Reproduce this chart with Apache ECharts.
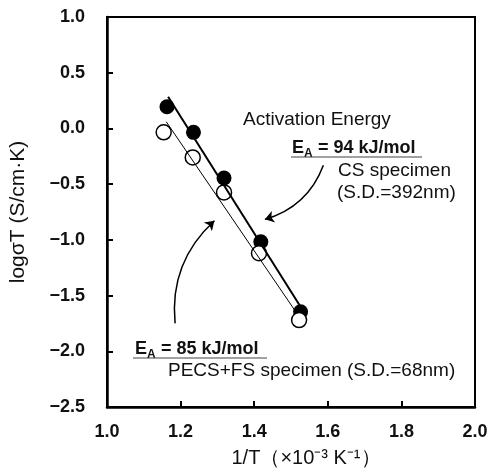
<!DOCTYPE html>
<html>
<head>
<meta charset="utf-8">
<script src="https://cdn.jsdelivr.net/npm/echarts@6/dist/echarts.min.js"></script>
<style>
  html, body { margin: 0; padding: 0; background: #fff; }
  #chart { width: 491px; height: 476px; }
</style>
</head>
<body>
<div id="chart"></div>
<script>
// CS specimen (filled circles)
var csX = [1.163, 1.235, 1.318, 1.418, 1.526]
var csY = [0.195, -0.035, -0.445, -1.017, -1.645]
// PECS+FS specimen (open circles)
var pecsX = [1.154, 1.233, 1.318, 1.413, 1.522]
var pecsY = [-0.035, -0.26, -0.574, -1.12, -1.72]
// fitted lines (end points)
var csFitX = [1.166, 1.526]
var csFitY = [0.285, -1.60]
var pecsFitX = [1.161, 1.516]
var pecsFitY = [0.06, -1.66]
// annotation arrows (start, tip) in data units
var csArrow = [[1.588, -0.33], [1.429, -0.816]]
var pecsArrow = [[1.185, -1.75], [1.292, -0.829]]

function pairs(xs, ys) {
  var out = []
  for (var i = 0; i < xs.length; i++) out.push([xs[i], ys[i]])
  return out
}
function fmt(v) {
  return v.toFixed(1).replace('-', '\u2212')
}

var chart = echarts.init(document.getElementById('chart'))
var font = '"Liberation Sans", Arial, sans-serif'

var option = {
  animation: false,
  backgroundColor: '#fff',
  grid: {
    left: 105, right: 16, top: 17, bottom: 69,
    show: true, borderColor: '#000', borderWidth: 2
  },
  xAxis: {
    type: 'value', min: 1.0, max: 2.0, interval: 0.2,
    name: '1/T\uff08\u00d710\u207b\u00b3 K\u207b\u00b9\uff09',
    nameLocation: 'middle', nameGap: 41,
    nameTextStyle: { color: '#111', fontSize: 20, fontFamily: font, padding: [0, 0, 0, 30] },
    axisLine: { onZero: false, lineStyle: { color: '#000', width: 2.5 } },
    axisTick: { inside: true, length: 6, lineStyle: { color: '#000', width: 2 } },
    axisLabel: { formatter: fmt, color: '#111', fontSize: 18, fontWeight: 'bold', fontFamily: font, margin: 16 },
    splitLine: { show: false }
  },
  yAxis: {
    type: 'value', min: -2.5, max: 1.0, interval: 0.5,
    name: 'log\u03c3T (S/cm\u00b7K)',
    nameLocation: 'middle', nameGap: 68,
    nameTextStyle: { color: '#111', fontSize: 21, fontFamily: font, padding: [0, 0, 10, 0] },
    axisLine: { onZero: false, lineStyle: { color: '#000', width: 2.5 } },
    axisTick: { inside: true, length: 6, lineStyle: { color: '#000', width: 2 } },
    axisLabel: { formatter: fmt, color: '#111', fontSize: 18, fontWeight: 'bold', fontFamily: font, margin: 22 },
    splitLine: { show: false }
  },
  series: [
    {
      name: 'CS fit', type: 'line', data: pairs(csFitX, csFitY),
      symbol: 'none', lineStyle: { color: '#000', width: 2 }
    },
    {
      name: 'PECS fit', type: 'line', data: pairs(pecsFitX, pecsFitY),
      symbol: 'none', lineStyle: { color: '#000', width: 1 }
    },
    {
      name: 'arrows', type: 'lines', coordinateSystem: 'cartesian2d',
      symbol: ['none', 'arrow'], symbolSize: 9,
      lineStyle: { color: '#000', width: 1.5, curveness: 0.25, opacity: 1 },
      data: [{ coords: csArrow }, { coords: pecsArrow }]
    },
    {
      name: 'CS specimen', type: 'scatter', data: pairs(csX, csY),
      symbol: 'circle', symbolSize: 15,
      itemStyle: { color: '#000', opacity: 1 }
    },
    {
      name: 'PECS+FS specimen', type: 'scatter', data: pairs(pecsX, pecsY),
      symbol: 'circle', symbolSize: 15,
      itemStyle: { color: '#fff', borderColor: '#000', borderWidth: 1.5, opacity: 1 }
    }
  ],
  graphic: [
    { type: 'text', x: 243, y: 120, style: { text: 'Activation Energy', font: '19px ' + font, fill: '#111', textVerticalAlign: 'middle' } },
    // E_A = 94 kJ/mol
    { type: 'text', x: 292, y: 148, style: { text: 'E', font: 'bold 18px ' + font, fill: '#111', textVerticalAlign: 'middle' } },
    { type: 'text', x: 304, y: 154, style: { text: 'A', font: 'bold 12px ' + font, fill: '#111', textVerticalAlign: 'middle' } },
    { type: 'text', x: 313, y: 148, style: { text: ' = 94 kJ/mol', font: 'bold 18px ' + font, fill: '#111', textVerticalAlign: 'middle' } },
    { type: 'line', shape: { x1: 291, y1: 157, x2: 422, y2: 157 }, style: { stroke: '#444', lineWidth: 1.2 } },
    { type: 'text', x: 338, y: 171, style: { text: 'CS specimen', font: '19px ' + font, fill: '#111', textVerticalAlign: 'middle' } },
    { type: 'text', x: 337, y: 193, style: { text: '(S.D.=392nm)', font: '19px ' + font, fill: '#111', textVerticalAlign: 'middle' } },
    // E_A = 85 kJ/mol
    { type: 'text', x: 135, y: 349, style: { text: 'E', font: 'bold 18px ' + font, fill: '#111', textVerticalAlign: 'middle' } },
    { type: 'text', x: 147, y: 355, style: { text: 'A', font: 'bold 12px ' + font, fill: '#111', textVerticalAlign: 'middle' } },
    { type: 'text', x: 156, y: 349, style: { text: ' = 85 kJ/mol', font: 'bold 18px ' + font, fill: '#111', textVerticalAlign: 'middle' } },
    { type: 'line', shape: { x1: 133, y1: 358, x2: 267, y2: 358 }, style: { stroke: '#444', lineWidth: 1.2 } },
    { type: 'text', x: 168, y: 371, style: { text: 'PECS+FS specimen (S.D.=68nm)', font: '19px ' + font, fill: '#111', textVerticalAlign: 'middle' } }
  ]
}

chart.setOption(option)
</script>
</body>
</html>
